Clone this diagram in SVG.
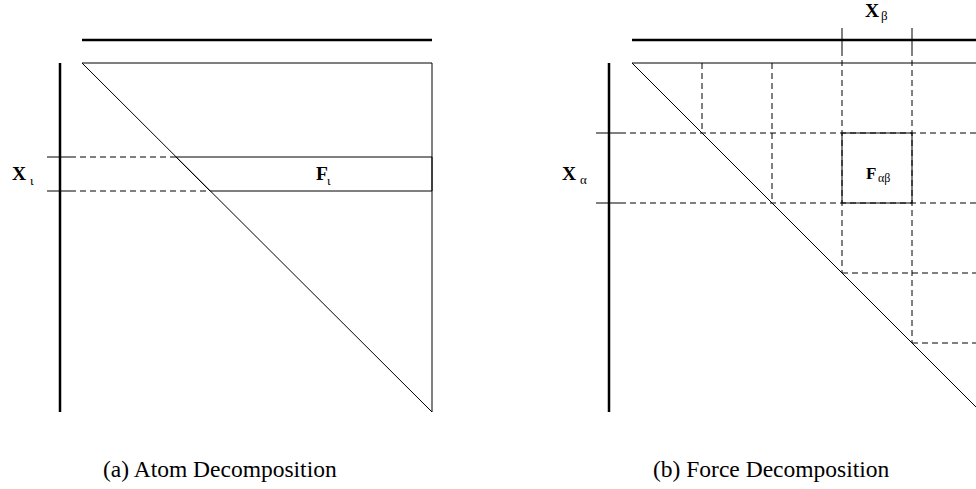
<svg xmlns="http://www.w3.org/2000/svg" width="976" height="489" viewBox="0 0 976 489">
<style>
.thick{stroke:#000;stroke-width:2.5;fill:none}
.thin{stroke:#000;stroke-width:1;fill:none}
.dash{stroke:#000;stroke-width:1;fill:none;stroke-dasharray:6 4}
.lbl{font-family:"Liberation Serif",serif;font-weight:bold;font-size:19.5px;fill:#000}
.sub{font-family:"Liberation Serif",serif;font-size:13px;fill:#000}
.cap{font-family:"Liberation Serif",serif;font-size:23.5px;fill:#000}
</style>
<rect width="976" height="489" fill="#fff"/>
<g id="panel-a">
  <line class="thick" x1="82" y1="40" x2="432" y2="40"/>
  <line class="thick" x1="60" y1="63" x2="60" y2="412"/>
  <polygon class="thin" points="82,63 432,63 432,412"/>
  <line class="thin" x1="47" y1="157" x2="70" y2="157"/>
  <line class="thin" x1="47" y1="191" x2="70" y2="191"/>
  <line class="dash" x1="70" y1="157" x2="176" y2="157"/>
  <line class="dash" x1="70" y1="191" x2="210" y2="191"/>
  <g id="F-iota">
    <polygon class="thin" points="176,157 432,157 432,191 210,191" stroke-width="1.5"/>
    <text class="lbl" x="316" y="180">F</text><text class="sub" x="327" y="185">ι</text>
  </g>
  <g id="X-iota">
    <text class="lbl" x="12" y="180">X</text><text class="sub" x="30" y="185">ι</text>
  </g>
  <text class="cap" x="103" y="477">(a) Atom Decomposition</text>
</g>
<g id="panel-b">
  <line class="thick" x1="632" y1="40" x2="976" y2="40"/>
  <line class="thick" x1="609" y1="63" x2="609" y2="412"/>
  <polyline class="thin" points="632,63 982,63 982,413 632,63"/>
  <line class="thin" x1="842" y1="28" x2="842" y2="50"/>
  <line class="thin" x1="912" y1="28" x2="912" y2="50"/>
  <line class="thin" x1="596" y1="133" x2="620" y2="133"/>
  <line class="thin" x1="596" y1="203" x2="620" y2="203"/>
  <g id="grid">
    <line class="dash" x1="702" y1="63" x2="702" y2="133"/>
    <line class="dash" x1="772" y1="63" x2="772" y2="203"/>
    <line class="dash" x1="842" y1="50" x2="842" y2="273"/>
    <line class="dash" x1="912" y1="50" x2="912" y2="343"/>
    <line class="dash" x1="620" y1="133" x2="976" y2="133"/>
    <line class="dash" x1="620" y1="203" x2="976" y2="203"/>
    <line class="dash" x1="842" y1="273" x2="976" y2="273"/>
    <line class="dash" x1="912" y1="343" x2="976" y2="343"/>
  </g>
  <g id="F-ab">
    <rect class="thin" x="842" y="133" width="70" height="70"/>
    <text class="lbl" x="866" y="179" style="font-size:17px">F</text><text class="sub" x="878" y="182" style="font-size:12px">αβ</text>
  </g>
  <g id="X-alpha">
    <text class="lbl" x="562" y="180">X</text><text class="sub" x="580" y="184">α</text>
  </g>
  <g id="X-beta">
    <text class="lbl" x="865" y="17">X</text><text class="sub" x="881" y="20">β</text>
  </g>
  <text class="cap" x="653" y="477">(b) Force Decomposition</text>
</g>
</svg>
